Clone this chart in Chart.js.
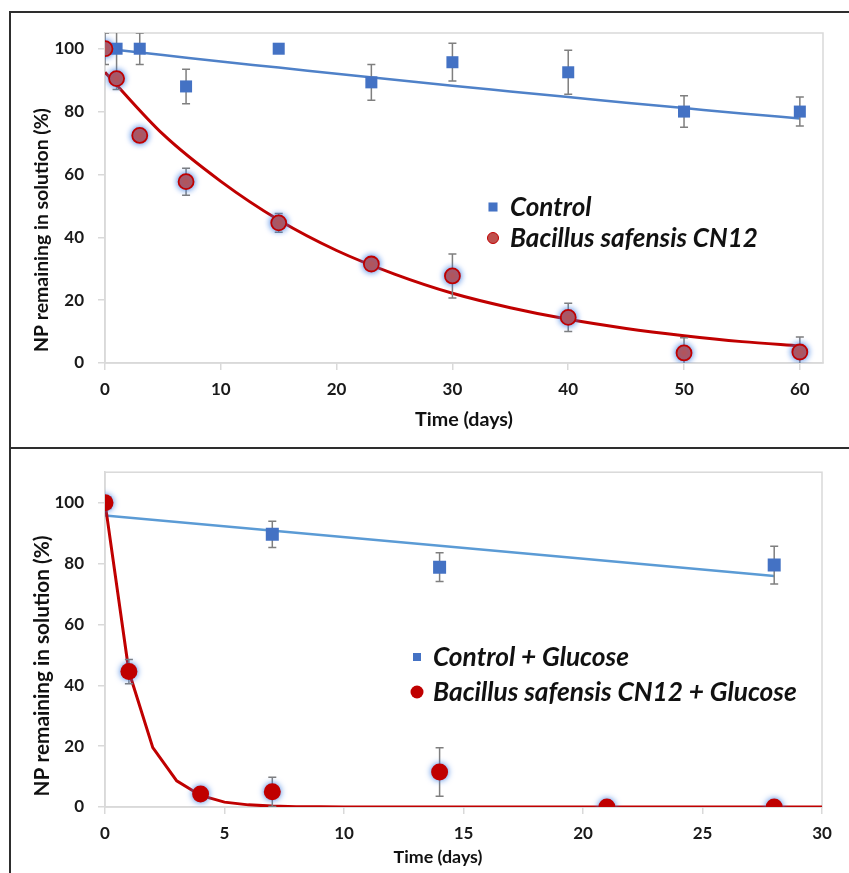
<!DOCTYPE html>
<html>
<head>
<meta charset="utf-8">
<title>NP remaining in solution</title>
<script src="https://cdn.jsdelivr.net/npm/chart.js@4.4.1/dist/chart.umd.min.js"></script>
<style>
  body { margin: 0; background: #fff; }
  #page { position: relative; width: 849px; height: 873px; overflow: hidden; }
  canvas { position: absolute; left: 0; }
  #chartTop { top: 0; }
  #chartBottom { top: 448px; }
  .rule { position: absolute; background: #2e2e2e; }
</style>
</head>
<body>
<div id="page">
  <canvas id="chartTop" width="849" height="448"></canvas>
  <canvas id="chartBottom" width="849" height="425"></canvas>
  <div class="rule" style="left:9px;top:11px;width:840px;height:2px"></div>
  <div class="rule" style="left:9px;top:447px;width:840px;height:2px"></div>
  <div class="rule" style="left:9px;top:11px;width:2px;height:862px"></div>
</div>
<script>
"use strict";

//--------------------DATA

// top panel (no glucose)
const daysTop = [0, 1, 3, 7, 15, 23, 30, 40, 50, 60];
const controlTop = [100, 100, 100, 88, 100, 89.3, 95.7, 92.5, 80, 80];
const controlTopErr = [5, 13, 5, 5.5, 0, 5.7, 6, 7, 5, 4.6];
const bacillusTop = [100, 90.5, 72.4, 57.7, 44.6, 31.5, 27.7, 14.5, 3.2, 3.5];
const bacillusTopErr = [0, 2, 0, 4.3, 3, 1, 7, 4.5, 4.8, 4.8];

// trend lines, every 5 days
const fitDaysTop = [0, 5, 10, 15, 20, 25, 30, 35, 40, 45, 50, 55, 60];
const controlFitTop = [100, 98, 95.9, 94, 92, 90.1, 88.2, 86.4, 84.6, 82.8, 81.1, 79.4, 77.8];
const bacillusFitTop = [92.5, 72.8, 57.8, 45.5, 35.8, 28.3, 22.2, 17.6, 13.9, 11.0, 8.7, 6.8, 5.4];

// bottom panel (+ glucose)
const controlDaysBottom = [0, 7, 14, 28];
const controlBottom = [100, 89.6, 78.8, 79.5];
const controlBottomErr = [0, 4.3, 4.7, 6.2];
const bacillusDaysBottom = [0, 1, 4, 7, 14, 21, 28];
const bacillusBottom = [100, 44.5, 4.3, 5.0, 11.5, 0, 0];
const bacillusBottomErr = [0, 4, 1, 4.8, 8, 0, 0];

const controlFitDaysBottom = [0, 28];
const controlFitBottom = [95.8, 75.9];
const bacillusFitDaysBottom = [0, 1, 2, 3, 4, 5, 6, 7, 8, 9, 10, 15, 20, 25, 30];
const bacillusFitBottom = [100, 44.5, 19.5, 8.6, 3.8, 1.6, 0.7, 0.3, 0.1, 0.05, 0, 0, 0, 0, 0];

// texts
const seriesTop = ["Control", "Bacillus safensis CN12"];
const seriesBottom = ["Control + Glucose", "Bacillus safensis CN12 + Glucose"];
const yTitle = "NP remaining in solution (%)";
const xTitle = "Time (days)";

//--------------------FUNCTIONS

// pair up x and y lists into points
function toPoints(xs, ys) {
  return xs.map((x, i) => ({ x: x, y: ys[i] }));
}

// pick a font size so that text is the given width
function fitFont(ctx, text, width, style) {
  ctx.font = style + " 20px Lato";
  const size = 20 * width / ctx.measureText(text).width;
  return style + " " + size.toFixed(2) + "px Lato";
}

// error bars go under the markers; red markers get a blue glow
const errorBars = {
  id: "errorBars",
  beforeDatasetDraw(chart, args) {
    const ds = chart.data.datasets[args.index];
    const ctx = chart.ctx;
    if (ds.errors) {
      const yScale = chart.scales.y;
      const area = chart.chartArea;
      ctx.save();
      ctx.beginPath();
      ctx.rect(area.left, area.top, area.right - area.left, area.bottom - area.top);
      ctx.clip();
      ctx.strokeStyle = "#7f7f7f";
      ctx.lineWidth = 1.5;
      args.meta.data.forEach((pt, i) => {
        const err = ds.errors[i];
        if (!err) return;
        const v = ds.data[i].y;
        const y1 = yScale.getPixelForValue(v + err);
        const y2 = yScale.getPixelForValue(v - err);
        ctx.beginPath();
        ctx.moveTo(pt.x, y1);
        ctx.lineTo(pt.x, y2);
        ctx.moveTo(pt.x - 4, y1);
        ctx.lineTo(pt.x + 4, y1);
        ctx.moveTo(pt.x - 4, y2);
        ctx.lineTo(pt.x + 4, y2);
        ctx.stroke();
      });
      ctx.restore();
    }
    if (ds.glow) {
      ctx.save();
      ctx.shadowColor = ds.glow;
      ctx.shadowBlur = 6;
    }
  },
  afterDatasetDraw(chart, args) {
    const ds = chart.data.datasets[args.index];
    if (ds.glow) chart.ctx.restore();
  }
};

// light grey box round the plot area
const plotFrame = {
  id: "plotFrame",
  beforeDatasetsDraw(chart) {
    const a = chart.chartArea;
    const ctx = chart.ctx;
    ctx.save();
    ctx.strokeStyle = "#d9d9d9";
    ctx.lineWidth = 1.5;
    ctx.strokeRect(a.left, a.top, a.right - a.left, a.bottom - a.top);
    ctx.restore();
  }
};

// axis titles and the legend inside the plot
const overlay = {
  id: "overlay",
  afterDraw(chart, args, opts) {
    const ctx = chart.ctx;
    ctx.save();
    ctx.fillStyle = "#111";
    ctx.textBaseline = "middle";

    ctx.textAlign = "center";
    ctx.font = fitFont(ctx, xTitle, opts.xTitleWidth, "bold");
    ctx.fillText(xTitle, opts.xTitleAt[0], opts.xTitleAt[1]);

    ctx.save();
    ctx.font = fitFont(ctx, yTitle, opts.yTitleWidth, "bold");
    ctx.translate(opts.yTitleAt[0], opts.yTitleAt[1]);
    ctx.rotate(-Math.PI / 2);
    ctx.fillText(yTitle, 0, 0);
    ctx.restore();

    // legend, one row per dataset that has a legendRow
    const items = chart.data.datasets.filter((ds) => ds.legendRow !== undefined);
    const longest = items.reduce((a, ds) => (ds.label.length > a.length ? ds.label : a), "");
    const font = fitFont(ctx, longest, opts.legendWidth, "italic bold");
    ctx.textAlign = "left";
    items.forEach((ds) => {
      const x = opts.legendAt[0];
      const y = opts.legendAt[1] + ds.legendRow * opts.legendGap;
      ctx.fillStyle = ds.backgroundColor;
      ctx.strokeStyle = ds.borderColor;
      Chart.helpers.drawPoint(ctx, {
        pointStyle: ds.pointStyle,
        radius: ds.legendRadius,
        rotation: 0,
        borderWidth: ds.pointBorderWidth || 0
      }, x, y);
      ctx.fillStyle = "#111";
      ctx.font = font;
      ctx.fillText(ds.label, x + opts.legendTextGap, y + 1);
    });
    ctx.restore();
  }
};

function makeScales(xMax, xStep, yMax, xHeight) {
  const grid = { drawOnChartArea: false, color: "#d9d9d9", lineWidth: 1.5, tickLength: 7 };
  const border = { color: "#d9d9d9", width: 1.5 };
  const font = { family: "Lato", size: 17, weight: "bold" };
  return {
    x: {
      type: "linear", min: 0, max: xMax, grid: grid, border: border,
      ticks: { stepSize: xStep, includeBounds: false, color: "#1a1a1a", font: font, padding: 9, maxRotation: 0 },
      afterFit: (s) => { s.height = xHeight; }
    },
    y: {
      type: "linear", min: 0, max: yMax, grid: grid, border: border,
      ticks: { stepSize: 20, includeBounds: false, color: "#1a1a1a", font: font, padding: 14 },
      afterFit: (s) => { s.width = 105; }
    }
  };
}

function makeChart(id, datasets, scales, padding, overlayOpts) {
  const ctx = document.getElementById(id).getContext("2d");
  return new Chart(ctx, {
    type: "scatter",
    data: { datasets: datasets },
    options: {
      responsive: false,
      animation: false,
      layout: { padding: padding },
      scales: scales,
      plugins: {
        legend: { display: false },
        tooltip: { enabled: false },
        overlay: overlayOpts
      }
    },
    plugins: [plotFrame, errorBars, overlay]
  });
}

//--------------------CHARTS

makeChart("chartTop", [
  {
    label: seriesTop[1], data: toPoints(daysTop, bacillusTop), errors: bacillusTopErr,
    pointStyle: "circle", pointRadius: 7.5, pointBorderWidth: 1.8, legendRadius: 5.5, legendRow: 1,
    backgroundColor: "#c0504d", borderColor: "#c00000", glow: "rgba(60,125,225,1)", order: 0
  },
  {
    label: seriesTop[0], data: toPoints(daysTop, controlTop), errors: controlTopErr,
    pointStyle: "rect", pointRadius: 8.5, pointBorderWidth: 0, legendRadius: 6.4, legendRow: 0,
    backgroundColor: "#4472c4", borderColor: "#4472c4", order: 1
  },
  {
    data: toPoints(fitDaysTop, bacillusFitTop), showLine: true, pointRadius: 0,
    borderColor: "#c00000", borderWidth: 3, cubicInterpolationMode: "monotone", order: 2
  },
  {
    data: toPoints(fitDaysTop, controlFitTop), showLine: true, pointRadius: 0,
    borderColor: "#4f81c8", borderWidth: 2.5, cubicInterpolationMode: "monotone", order: 3
  }
], makeScales(62, 10, 105, 85), { top: 33, right: 26, left: 0, bottom: 0 }, {
  xTitleAt: [464, 420], xTitleWidth: 98,
  yTitleAt: [42, 230], yTitleWidth: 244,
  legendAt: [493, 207], legendGap: 31, legendTextGap: 17, legendWidth: 248
});

makeChart("chartBottom", [
  {
    label: seriesBottom[1], data: toPoints(bacillusDaysBottom, bacillusBottom), errors: bacillusBottomErr,
    pointStyle: "circle", pointRadius: 8.5, pointBorderWidth: 0, legendRadius: 6.5, legendRow: 1,
    backgroundColor: "#c00000", borderColor: "#c00000", glow: "rgba(60,125,225,1)", order: 0
  },
  {
    label: seriesBottom[0], data: toPoints(controlDaysBottom, controlBottom), errors: controlBottomErr,
    pointStyle: "rect", pointRadius: 9.2, pointBorderWidth: 0, legendRadius: 5.7, legendRow: 0,
    backgroundColor: "#4472c4", borderColor: "#4472c4", order: 1
  },
  {
    data: toPoints(bacillusFitDaysBottom, bacillusFitBottom), showLine: true, pointRadius: 0,
    borderColor: "#c00000", borderWidth: 3, tension: 0, order: 2
  },
  {
    data: toPoints(controlFitDaysBottom, controlFitBottom), showLine: true, pointRadius: 0,
    borderColor: "#5b9bd5", borderWidth: 2.5, tension: 0, order: 3
  }
], makeScales(30, 5, 110, 66), { top: 21, right: 27, left: 0, bottom: 0 }, {
  xTitleAt: [438, 409], xTitleWidth: 89,
  yTitleAt: [42, 218], yTitleWidth: 261,
  legendAt: [417, 209], legendGap: 35, legendTextGap: 16, legendWidth: 364
});
</script>
</body>
</html>
